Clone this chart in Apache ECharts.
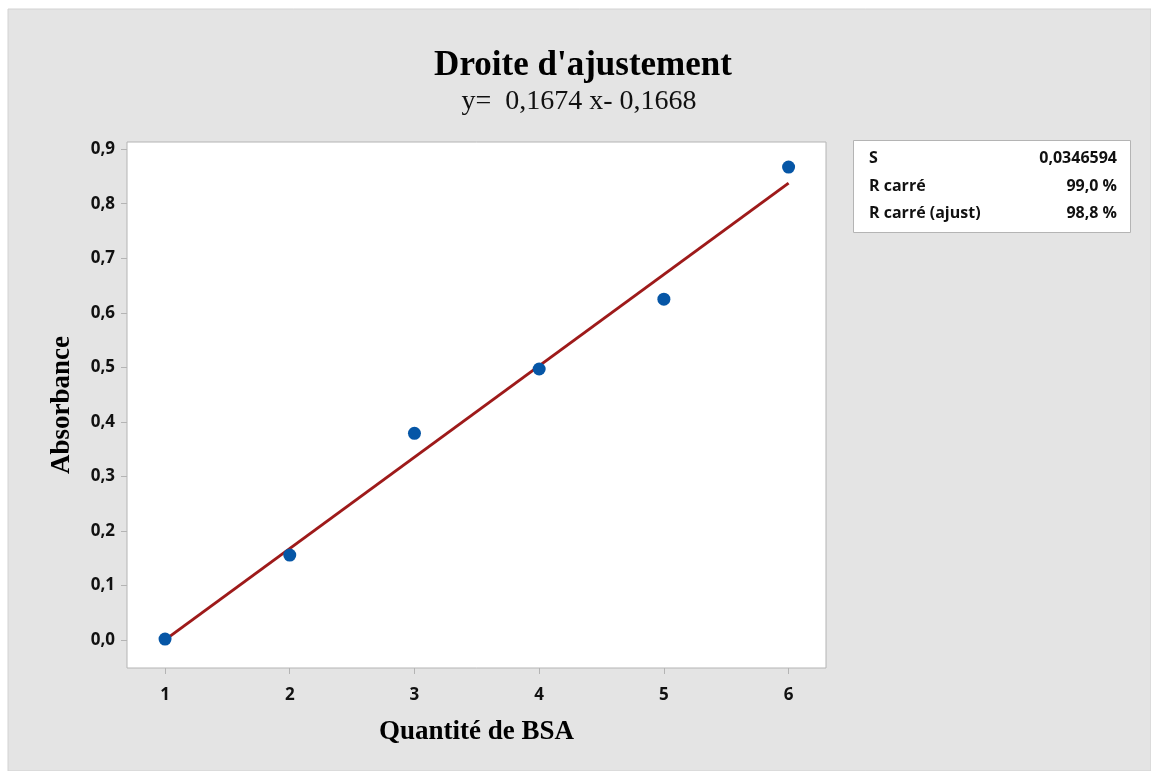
<!DOCTYPE html>
<html>
<head>
<meta charset="utf-8">
<title>Droite d'ajustement</title>
<script src="https://cdn.jsdelivr.net/npm/echarts@6/dist/echarts.min.js"></script>
<style>
  html, body { margin: 0; padding: 0; background: #ffffff; }
  #chart { width: 1151px; height: 771px; }
</style>
</head>
<body>
<div id="chart"></div>
<script>
// Measured absorbance for each BSA quantity
const quantities = [1, 2, 3, 4, 5, 6];
const absorbance = [0.002, 0.156, 0.379, 0.497, 0.625, 0.867];

// Fitted line y = 0,1674 x - 0,1668, drawn between its end points
const fitX = [1, 6];
const fitY = [0.0006, 0.8376];

// Tick labels
const xTicks = [1, 2, 3, 4, 5, 6];
const yTicks = [0, 0.1, 0.2, 0.3, 0.4, 0.5, 0.6, 0.7, 0.8, 0.9];

// Regression summary
const statNames = ['S', 'R carré', 'R carré (ajust)'];
const statValues = ['0,0346594', '99,0 %', '98,8 %'];

const titleText = "Droite d'ajustement";
const equationText = 'y=  0,1674 x- 0,1668';

const comma = v => String(v.toFixed(1)).replace('.', ',');

const chart = echarts.init(document.getElementById('chart'), null, { renderer: 'canvas' });

const tickFont = { fontFamily: 'Open Sans', fontWeight: 'bold', fontSize: 17, color: '#111' };

const statGraphics = [];
statNames.forEach((name, i) => {
  const y = 158.5 + i * 27.5;
  statGraphics.push({
    type: 'text', x: 869, y: y, z: 10,
    style: { text: name, font: 'bold 16px "Open Sans"', fill: '#111', textVerticalAlign: 'middle' }
  });
  statGraphics.push({
    type: 'text', x: 1117, y: y, z: 10,
    style: { text: statValues[i], font: 'bold 16px "Open Sans"', fill: '#111',
             textAlign: 'right', textVerticalAlign: 'middle' }
  });
});

chart.setOption({
  animation: false,
  backgroundColor: '#ffffff',
  graphic: [
    { type: 'rect', shape: { x: 8, y: 9, width: 1143, height: 762 }, z: -10,
      style: { fill: '#e4e4e4', stroke: '#d2d2d2', lineWidth: 1 } },
    { type: 'text', x: 583, y: 66, z: 10,
      style: { text: titleText, font: 'bold 35px "Liberation Serif"', fill: '#000',
               textAlign: 'center', textVerticalAlign: 'middle' } },
    { type: 'text', x: 579, y: 102, z: 10,
      style: { text: equationText, font: '28px "Liberation Serif"', fill: '#111',
               textAlign: 'center', textVerticalAlign: 'middle' } },
    { type: 'rect', shape: { x: 853.5, y: 140.5, width: 277, height: 92 }, z: 5,
      style: { fill: '#ffffff', stroke: '#b4b4b4', lineWidth: 1 } },
    ...statGraphics
  ],
  grid: {
    left: 127, right: 325, top: 142, bottom: 103,
    show: true, backgroundColor: '#ffffff', borderColor: '#b4b4b4', borderWidth: 1
  },
  xAxis: {
    type: 'value', min: 0.695, max: 6.3,
    name: 'Quantité de BSA', nameLocation: 'middle', nameGap: 51,
    nameTextStyle: { fontFamily: 'Liberation Serif', fontWeight: 'bold', fontSize: 27, color: '#000' },
    axisLine: { show: false, onZero: false },
    axisTick: { show: true, length: 6, lineStyle: { color: '#b4b4b4' }, customValues: xTicks },
    axisLabel: { ...tickFont, margin: 19, customValues: xTicks, formatter: v => String(v) },
    splitLine: { show: false }
  },
  yAxis: {
    type: 'value', min: -0.051, max: 0.913,
    name: 'Absorbance', nameLocation: 'middle', nameGap: 51,
    nameTextStyle: { fontFamily: 'Liberation Serif', fontWeight: 'bold', fontSize: 27, color: '#000' },
    axisLine: { show: false, onZero: false },
    axisTick: { show: true, length: 6, lineStyle: { color: '#b4b4b4' }, customValues: yTicks },
    axisLabel: { ...tickFont, margin: 12, customValues: yTicks, formatter: v => comma(v) },
    splitLine: { show: false }
  },
  series: [
    {
      type: 'line', name: 'ajustement',
      data: fitX.map((x, i) => [x, fitY[i]]),
      showSymbol: false, symbol: 'none',
      lineStyle: { color: '#9e1a1a', width: 3 },
      z: 2
    },
    {
      type: 'scatter', name: 'mesures',
      data: quantities.map((x, i) => [x, absorbance[i]]),
      symbol: 'circle', symbolSize: 13,
      itemStyle: { color: '#0656a6', opacity: 1 },
      z: 3
    }
  ]
});
</script>
</body>
</html>
